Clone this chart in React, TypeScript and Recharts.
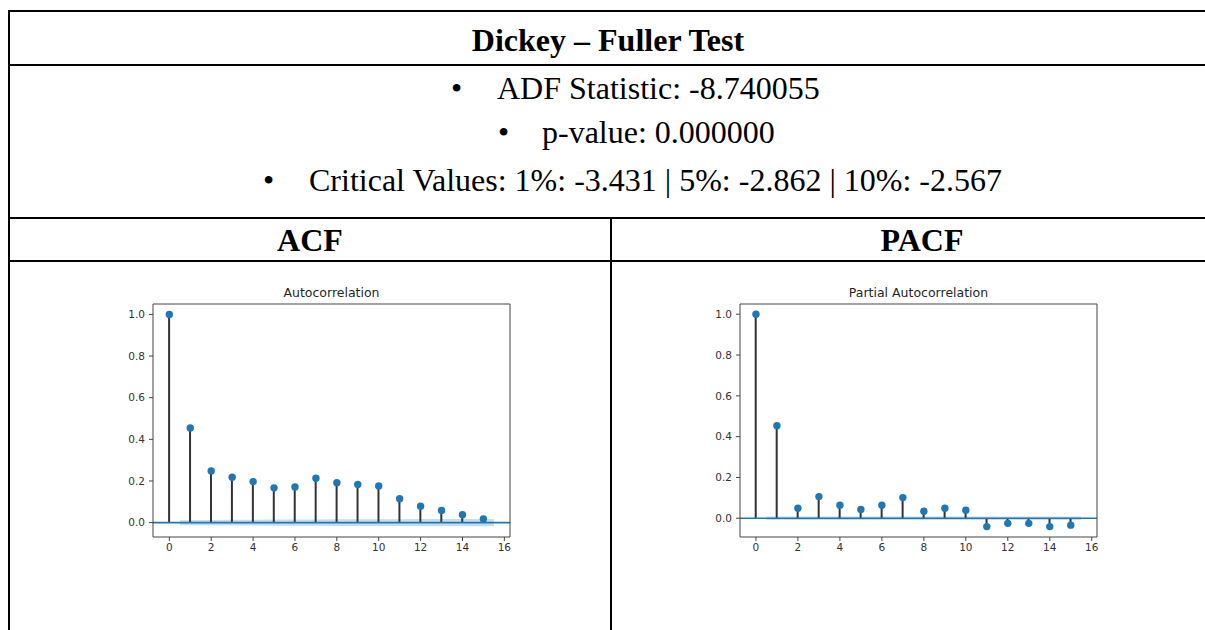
import React from "react"
import {
  ComposedChart,
  Bar,
  Area,
  Scatter,
  XAxis,
  YAxis,
  ReferenceLine,
} from "recharts"

// lags and correlation values
const LAGS = [0, 1, 2, 3, 4, 5, 6, 7, 8, 9, 10, 11, 12, 13, 14, 15]
const ACF_VALUES = [
  1.0, 0.455, 0.248, 0.218, 0.197, 0.167, 0.171, 0.213, 0.192, 0.183, 0.176, 0.115,
  0.079, 0.058, 0.038, 0.018,
]
const PACF_VALUES = [
  1.0, 0.453, 0.049, 0.106, 0.064, 0.043, 0.064, 0.101, 0.034, 0.049, 0.039, -0.041,
  -0.025, -0.025, -0.041, -0.034,
]
// half width of the confidence band, lags 1..15
const ACF_CONF = [
  0.012, 0.013, 0.014, 0.014, 0.015, 0.015, 0.015, 0.016, 0.016, 0.016, 0.016, 0.017,
  0.017, 0.017, 0.017,
]
const PACF_CONF = [
  0.009, 0.009, 0.009, 0.009, 0.009, 0.009, 0.009, 0.009, 0.009, 0.009, 0.009, 0.009,
  0.009, 0.009, 0.009,
]
const Y_TICKS = [0, 0.2, 0.4, 0.6, 0.8, 1.0]
const X_TICKS = [0, 2, 4, 6, 8, 10, 12, 14, 16]

const ADF_LINES = [
  "ADF Statistic: -8.740055",
  "p-value: 0.000000",
  "Critical Values: 1%: -3.431 | 5%: -2.862 | 10%: -2.567",
]

const BLUE = "#1f77b4"
const SERIF = "'Liberation Serif', 'Times New Roman', serif"
const SANS = "'DejaVu Sans', sans-serif"

type Row = { x: number; v?: number; band?: [number, number] }

function buildRows(values: number[], conf: number[]) {
  const rows: Row[] = LAGS.map((lag, i) => ({ x: lag, v: values[i] }))
  const last = LAGS.length - 1
  for (let i = 1; i <= last; i++) {
    // statsmodels stretches the band half a lag at both ends
    const x = i === 1 ? LAGS[i] - 0.5 : i === last ? LAGS[i] + 0.5 : LAGS[i]
    const band: [number, number] = [-conf[i - 1], conf[i - 1]]
    const hit = rows.find((r) => r.x === x)
    if (hit) hit.band = band
    else rows.push({ x, band })
  }
  return rows.sort((a, b) => a.x - b.x)
}

interface StemPlotProps {
  title: string
  values: number[]
  conf: number[]
  left: number
  yAxisWidth: number
  rightMargin: number
  xDomain: [number, number]
  yDomain: [number, number]
}

function StemPlot({ title, values, conf, left, yAxisWidth, rightMargin, xDomain, yDomain }: StemPlotProps) {
  const rows = buildRows(values, conf)
  const stems = LAGS.map((lag, i) => ({ x: lag, v: values[i] }))
  const width = 430
  const plotLeft = left + yAxisWidth
  const plotWidth = width - yAxisWidth - rightMargin
  const tick = { fill: "#333", fontSize: 10.5, fontFamily: SANS }

  return (
    <>
      <div
        style={{
          position: "absolute",
          left: plotLeft,
          width: plotWidth,
          top: 286,
          lineHeight: "14px",
          textAlign: "center",
          fontFamily: SANS,
          fontSize: 12.5,
          color: "#262626",
        }}
      >
        {title}
      </div>
      <div style={{ position: "absolute", left, top: 280 }}>
        <ComposedChart
          width={width}
          height={280}
          data={rows}
          margin={{ top: 24, right: rightMargin, left: 0, bottom: 0 }}
        >
          <XAxis
            dataKey="x"
            type="number"
            domain={xDomain}
            allowDataOverflow
            ticks={X_TICKS}
            interval={0}
            height={23}
            tick={tick}
            tickSize={4}
            tickMargin={3}
            axisLine={{ stroke: "#444" }}
            tickLine={{ stroke: "#444" }}
          />
          <YAxis
            type="number"
            domain={yDomain}
            allowDataOverflow
            ticks={Y_TICKS}
            interval={0}
            width={yAxisWidth}
            tick={tick}
            tickSize={4}
            tickMargin={4}
            tickFormatter={(v: number) => v.toFixed(1)}
            axisLine={{ stroke: "#444" }}
            tickLine={{ stroke: "#444" }}
          />
          <Area
            dataKey="band"
            type="linear"
            connectNulls
            stroke="none"
            fill={BLUE}
            fillOpacity={0.25}
            isAnimationActive={false}
          />
          <Bar dataKey="v" barSize={2} fill="#333" isAnimationActive={false} />
          <ReferenceLine y={0} stroke={BLUE} strokeWidth={1.6} />
          <ReferenceLine y={yDomain[1]} stroke="#444" />
          <ReferenceLine x={xDomain[1]} stroke="#444" />
          <Scatter
            data={stems}
            dataKey="v"
            fill={BLUE}
            isAnimationActive={false}
            shape={(p: any) => <circle cx={p.cx} cy={p.cy} r={3.7} fill={BLUE} />}
          />
        </ComposedChart>
      </div>
    </>
  )
}

function HLine({ top }: { top: number }) {
  return <div style={{ position: "absolute", left: 8, top, width: 1197, height: 2, background: "#000" }} />
}

export default function App() {
  const textBase: React.CSSProperties = {
    position: "absolute",
    fontFamily: SERIF,
    fontSize: 32,
    lineHeight: "32px",
    color: "#000",
    whiteSpace: "nowrap",
  }
  const bullets = [
    { bullet: 451, text: 497, top: 72 },
    { bullet: 498, text: 542, top: 116 },
    { bullet: 263, text: 309, top: 164 },
  ]

  return (
    <div
      style={{
        position: "absolute",
        left: 0,
        top: 0,
        width: 1205,
        height: 630,
        overflow: "hidden",
        background: "#fff",
      }}
    >
      <HLine top={10} />
      <HLine top={64} />
      <HLine top={217} />
      <HLine top={260} />
      <div style={{ position: "absolute", left: 8, top: 10, width: 2, height: 620, background: "#000" }} />
      <div style={{ position: "absolute", left: 610, top: 217, width: 2, height: 413, background: "#000" }} />

      <div style={{ ...textBase, left: 8, width: 1200, top: 24, textAlign: "center", fontWeight: "bold" }}>
        Dickey – Fuller Test
      </div>
      {ADF_LINES.map((line, i) => (
        <React.Fragment key={line}>
          <div style={{ ...textBase, left: bullets[i].bullet, top: bullets[i].top }}>•</div>
          <div style={{ ...textBase, left: bullets[i].text, top: bullets[i].top }}>{line}</div>
        </React.Fragment>
      ))}
      <div style={{ ...textBase, left: 10, width: 600, top: 224, textAlign: "center", fontWeight: "bold" }}>
        ACF
      </div>
      <div style={{ ...textBase, left: 612, width: 620, top: 224, textAlign: "center", fontWeight: "bold" }}>
        PACF
      </div>

      <StemPlot
        title="Autocorrelation"
        values={ACF_VALUES}
        conf={ACF_CONF}
        left={100}
        yAxisWidth={53}
        rightMargin={20}
        xDomain={[-0.78, 16.27]}
        yDomain={[-0.069, 1.05]}
      />
      <StemPlot
        title="Partial Autocorrelation"
        values={PACF_VALUES}
        conf={PACF_CONF}
        left={690}
        yAxisWidth={50}
        rightMargin={23}
        xDomain={[-0.76, 16.25]}
        yDomain={[-0.092, 1.05]}
      />
    </div>
  )
}
